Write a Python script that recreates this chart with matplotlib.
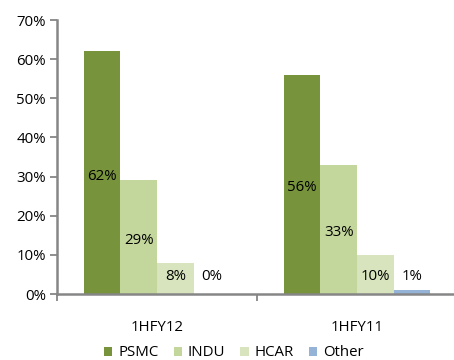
import matplotlib.pyplot as plt
import numpy as np

periods = ['1HFY12', '1HFY11']
segments = ['PSMC', 'INDU', 'HCAR', 'Other']
shares = {
    'PSMC': [62, 56],
    'INDU': [29, 33],
    'HCAR': [8, 10],
    'Other': [0, 1],
}
colors = ['#77933C', '#C3D69B', '#D7E4BD', '#95B3D7']

plt.rcParams['font.family'] = ['Open Sans', 'DejaVu Sans']

fig = plt.figure(figsize=(4.54, 3.6), dpi=100)
ax = fig.add_axes([57 / 454, 66 / 360, 400 / 454, 274 / 360])

x = np.arange(len(periods))
w = 0.183
for i, seg in enumerate(segments):
    vals = shares[seg]
    pos = x + (i - 1.5) * w
    ax.bar(pos, vals, w, color=colors[i], label=seg, zorder=2)
    # value labels near the middle of each bar, kept clear of the axis
    for p, v in zip(pos, vals):
        ax.text(p, max(v / 2 - 0.9, 4.35), f'{v}%', ha='center', va='center',
                fontsize=10.8, color='black', zorder=3)

ax.set_xlim(-0.5, 1.5)
ax.set_ylim(0, 70)
ax.set_yticks(range(0, 71, 10))
ax.set_yticklabels([f'{t}%' for t in range(0, 71, 10)], fontsize=10.8)
ax.set_xticks(x)
ax.set_xticklabels(periods, fontsize=10.8)
ax.set_xticks([-0.5, 0.5, 1.5], minor=True)
ax.tick_params(axis='x', which='major', length=0, pad=19)
ax.tick_params(axis='x', which='minor', length=5, width=1.3, color='#868686', direction='out')
ax.tick_params(axis='y', length=5, width=1.3, color='#868686', direction='out', pad=3)

for side in ['top', 'right']:
    ax.spines[side].set_visible(False)
for side in ['left', 'bottom']:
    ax.spines[side].set_color('#868686')
    ax.spines[side].set_linewidth(1.8)

fig.legend(loc='center', bbox_to_anchor=(234 / 454, 7 / 360), ncol=4, frameon=False,
           fontsize=10.8, handlelength=0.55, handleheight=0.55, handletextpad=0.4,
           columnspacing=1.0)

fig.savefig('out.png', dpi=100)
